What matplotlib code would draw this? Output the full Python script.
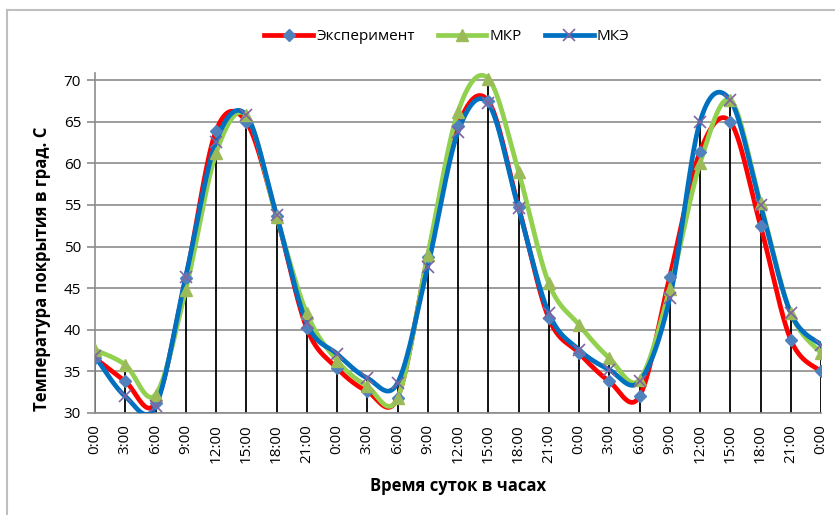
import numpy as np
import matplotlib.pyplot as plt
from matplotlib.lines import Line2D

# =========================================================
# DATA
# =========================================================

TIME_LABELS = ["0:00", "3:00", "6:00", "9:00", "12:00", "15:00", "18:00", "21:00"] * 3 + ["0:00"]

EXPERIMENT = [36.6, 33.8, 31.2, 46.2, 63.9, 65.0, 53.7, 40.2,
              35.4, 32.6, 31.8, 48.8, 64.5, 67.5, 54.8, 41.4,
              37.2, 33.8, 32.0, 46.4, 61.4, 65.0, 52.5, 38.8,
              35.0]

MKR = [37.6, 35.8, 32.2, 44.8, 61.2, 65.8, 53.6, 42.0,
       36.3, 33.2, 31.8, 49.0, 66.2, 70.2, 59.0, 45.6,
       40.6, 36.6, 34.0, 44.9, 60.0, 67.6, 55.2, 42.0,
       37.2]

MKE = [36.8, 32.0, 30.8, 46.4, 62.6, 65.8, 53.8, 40.8,
       37.1, 34.2, 33.6, 47.6, 63.8, 67.2, 54.6, 42.0,
       37.6, 35.2, 33.8, 43.8, 65.0, 67.6, 55.0, 42.0,
       38.2]

SERIES_NAMES = ["Эксперимент", "МКР", "МКЭ"]

FONT = ["Open Sans", "DejaVu Sans"]


# =========================================================
# HELPERS
# =========================================================

def smooth(x, y, n=30):
    # bezier smoothing like the spreadsheet "smoothed line"
    x = np.asarray(x, float)
    y = np.asarray(y, float)
    px = np.concatenate([[x[0]], x, [x[-1]]])
    py = np.concatenate([[y[0]], y, [y[-1]]])
    t = np.linspace(0, 1, n)
    xs, ys = [], []
    for i in range(1, len(px) - 2):
        p0 = np.array([px[i], py[i]])
        p3 = np.array([px[i + 1], py[i + 1]])
        c1 = p0 + (np.array([px[i + 1], py[i + 1]]) - np.array([px[i - 1], py[i - 1]])) / 6
        c2 = p3 - (np.array([px[i + 2], py[i + 2]]) - np.array([px[i], py[i]])) / 6
        b = ((1 - t) ** 3)[:, None] * p0 + (3 * (1 - t) ** 2 * t)[:, None] * c1 \
            + (3 * (1 - t) * t ** 2)[:, None] * c2 + (t ** 3)[:, None] * p3
        xs.append(b[:, 0])
        ys.append(b[:, 1])
    return np.concatenate(xs), np.concatenate(ys)


# =========================================================
# PLOT
# =========================================================

plt.rcParams["font.family"] = FONT

fig = plt.figure(figsize=(8.35, 5.15), dpi=100)
ax = fig.add_axes([95 / 835, 1 - 413 / 515, (821 - 95) / 835, (413 - 72.7) / 515])

x = np.arange(len(TIME_LABELS))

# drop lines
tops = np.max([EXPERIMENT, MKR, MKE], axis=0)
ax.vlines(x, 30, tops, color="black", linewidth=1.3, zorder=2)

styles = [
    (EXPERIMENT, "#FF0000", "D", "#4F81BD", 6.5, 1.0),
    (MKR, "#92D050", "^", "#9BBB59", 8, 1.0),
    (MKE, "#0070C0", "x", "#8064A2", 9, 1.2),
]

for vals, lc, m, mc, ms, mew in styles:
    sx, sy = smooth(x, vals)
    ax.plot(sx, sy, color=lc, linewidth=3.4, solid_capstyle="round", zorder=3)

for vals, lc, m, mc, ms, mew in styles:
    ax.plot(x, vals, linestyle="none", marker=m, markersize=ms,
            color=mc, markeredgewidth=mew, zorder=4)

ax.set_xlim(0, 24)
ax.set_ylim(30, 70.9)
ax.set_yticks(range(30, 71, 5))
ax.set_xticks(x)
ax.set_xticklabels(TIME_LABELS, rotation=90)
ax.yaxis.grid(True, color="#8c8c8c", linewidth=1.2)
ax.set_axisbelow(True)

for s in ["top", "right"]:
    ax.spines[s].set_visible(False)
ax.spines["left"].set_color("#8c8c8c")
ax.spines["bottom"].set_color("#8c8c8c")
ax.spines["left"].set_linewidth(1.2)
ax.spines["bottom"].set_linewidth(1.2)

ax.tick_params(axis="y", length=6, color="#8c8c8c", labelsize=11, pad=4)
ax.tick_params(axis="x", length=0, labelsize=11, pad=8)
ax.yaxis.set_tick_params(width=1.2)

ax.set_ylabel("Температура покрытия в град. С", fontsize=12, fontweight="bold")
ax.yaxis.set_label_coords(-0.06, 0.423)
ax.set_xlabel("Время суток в часах", fontsize=12, fontweight="bold", labelpad=10)

handles = []
for (vals, lc, m, mc, ms, mew), name in zip(styles, SERIES_NAMES):
    handles.append(Line2D([], [], color=lc, linewidth=3.4, marker=m, markersize=ms,
                          markerfacecolor=mc, markeredgecolor=mc, markeredgewidth=mew, label=name))
fig.legend(handles=handles, loc="center", bbox_to_anchor=(0.535, 1 - 37 / 515), ncol=3,
           frameon=False, fontsize=11, handlelength=3.2, handletextpad=0.2, columnspacing=1.5)

# chart frame (left and top edges visible)
fig.add_artist(Line2D([7 / 835, 7 / 835], [0, 1 - 10 / 515], color="#bfbfbf", linewidth=1.5))
fig.add_artist(Line2D([7 / 835, 1], [1 - 10 / 515, 1 - 10 / 515], color="#bfbfbf", linewidth=1.5))

fig.savefig("out.png", dpi=100)
